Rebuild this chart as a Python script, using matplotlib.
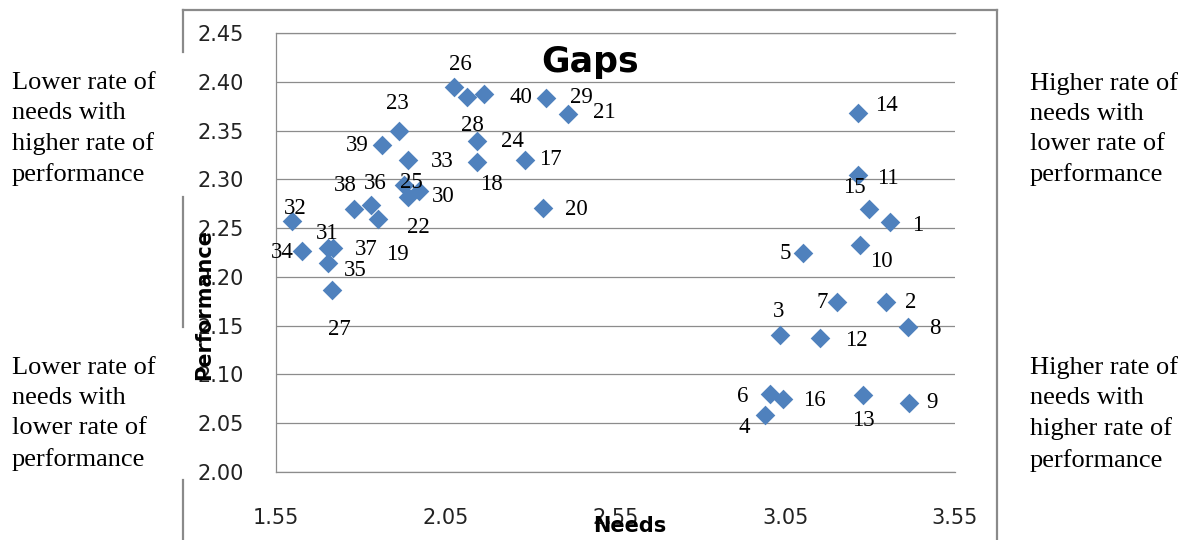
import matplotlib
matplotlib.use("Agg")
import matplotlib.pyplot as plt
from matplotlib.lines import Line2D

# item numbers and their (needs, performance) means
labels = [str(i) for i in range(1, 41)]
needs = [3.358, 3.346, 3.034, 2.990, 3.102, 3.004, 3.202, 3.411, 3.414, 3.270,
         3.264, 3.152, 3.279, 3.264, 3.296, 3.043, 2.282, 2.143, 1.851, 2.335,
         2.411, 1.939, 1.913, 2.143, 1.928, 2.075, 1.715, 2.113, 2.346, 1.972,
         1.703, 1.597, 1.939, 1.627, 1.703, 1.830, 1.718, 1.780, 1.863, 2.164]
perf = [2.256, 2.174, 2.140, 2.058, 2.224, 2.080, 2.174, 2.149, 2.071, 2.233,
        2.304, 2.137, 2.079, 2.368, 2.270, 2.075, 2.320, 2.318, 2.259, 2.271,
        2.367, 2.282, 2.350, 2.339, 2.294, 2.395, 2.187, 2.384, 2.383, 2.288,
        2.230, 2.257, 2.320, 2.227, 2.214, 2.274, 2.230, 2.270, 2.335, 2.387]

xticks = [1.55, 2.05, 2.55, 3.05, 3.55]
yticks = [2.00, 2.05, 2.10, 2.15, 2.20, 2.25, 2.30, 2.35, 2.40, 2.45]

quad_tl = "Lower rate of\nneeds with\nhigher rate of\nperformance"
quad_bl = "Lower rate of\nneeds with\nlower rate of\nperformance"
quad_tr = "Higher rate of\nneeds with\nlower rate of\nperformance"
quad_br = "Higher rate of\nneeds with\nhigher rate of\nperformance"

# label offsets (pixels) from each diamond
lab_off = [(28, -3), (25, 0), (-1, 24), (-21, -12), (-18, 0), (-27, -3), (-15, 0),
           (27, -2), (23, 0), (21, -17), (30, -3), (36, -2), (0, -26), (29, 7),
           (-14, 21), (31, -2), (26, 0), (14, -23), (19, -35), (34, -2), (36, 1),
           (10, -31), (-2, 27), (35, 0), (7, 3), (6, 22), (7, -40), (5, -28),
           (35, 1), (24, -5), (-1, 14), (3, 13), (34, -2), (-20, -2), (27, -7),
           (4, 21), (33, -2), (-9, 23), (-25, 0), (36, -3)]

W, H = 1187, 540
BLUE = "#4F81BD"
GRID = "#8c8c8c"
SERIF = "Liberation Serif"

fig = plt.figure(figsize=(W / 100, H / 100), dpi=100)

# outer chart border (broken on the left where the text boxes sit)
border = "#8a8a8a"
for (x0, y0, x1, y1) in [(183, 10, 997, 10), (997, 10, 997, 545),
                         (183, 10, 183, 52), (183, 197, 183, 327),
                         (183, 480, 183, 545)]:
    fig.add_artist(Line2D([x0 / W, x1 / W], [1 - y0 / H, 1 - y1 / H],
                          color=border, lw=1.6, transform=fig.transFigure))

ax = fig.add_axes([276 / W, 1 - 472 / H, (955 - 276) / W, (472 - 33) / H])
ax.scatter(needs, perf, marker="D", s=100, color=BLUE, linewidths=0, zorder=3)
for lb, x, y, (dx, dy) in zip(labels, needs, perf, lab_off):
    ax.annotate(lb, (x, y), xytext=(dx, dy), textcoords="offset pixels",
                ha="center", va="center", fontsize=16.5, family=SERIF,
                color="black", zorder=4)

ax.set_xlim(1.55, 3.55)
ax.set_ylim(2.00, 2.45)
ax.set_xticks(xticks)
ax.set_yticks(yticks)
ax.set_xticklabels([f"{v:.2f}" for v in xticks])
ax.set_yticklabels([f"{v:.2f}" for v in yticks])
ax.tick_params(axis="both", length=0, labelsize=15, labelcolor="#222222")
ax.tick_params(axis="x", pad=26)
ax.tick_params(axis="y", pad=23)
ax.yaxis.grid(True, color=GRID, lw=0.9)
ax.set_axisbelow(True)
for s in ["left", "bottom", "top"]:
    ax.spines[s].set_color(GRID)
    ax.spines[s].set_linewidth(0.9)
ax.spines["right"].set_visible(False)

ax.text(0.462, 0.934, "Gaps", transform=ax.transAxes, ha="center", va="center",
        fontsize=25, fontweight="bold")
fig.text(630 / W, 1 - 526 / H, "Needs", ha="center", va="center",
         fontsize=15, fontweight="bold")
fig.text(204 / W, 1 - 305 / H, "Performance", ha="center", va="center",
         fontsize=15, fontweight="bold", rotation=90)

# quadrant notes
for txt, x, y in [(quad_tl, 12, 129), (quad_bl, 12, 414),
                  (quad_tr, 1030, 129), (quad_br, 1030, 414)]:
    fig.text(x / W, 1 - y / H, txt, ha="left", va="center", fontsize=19,
             family=SERIF, linespacing=1.47)

fig.savefig("out.png", dpi=100)
